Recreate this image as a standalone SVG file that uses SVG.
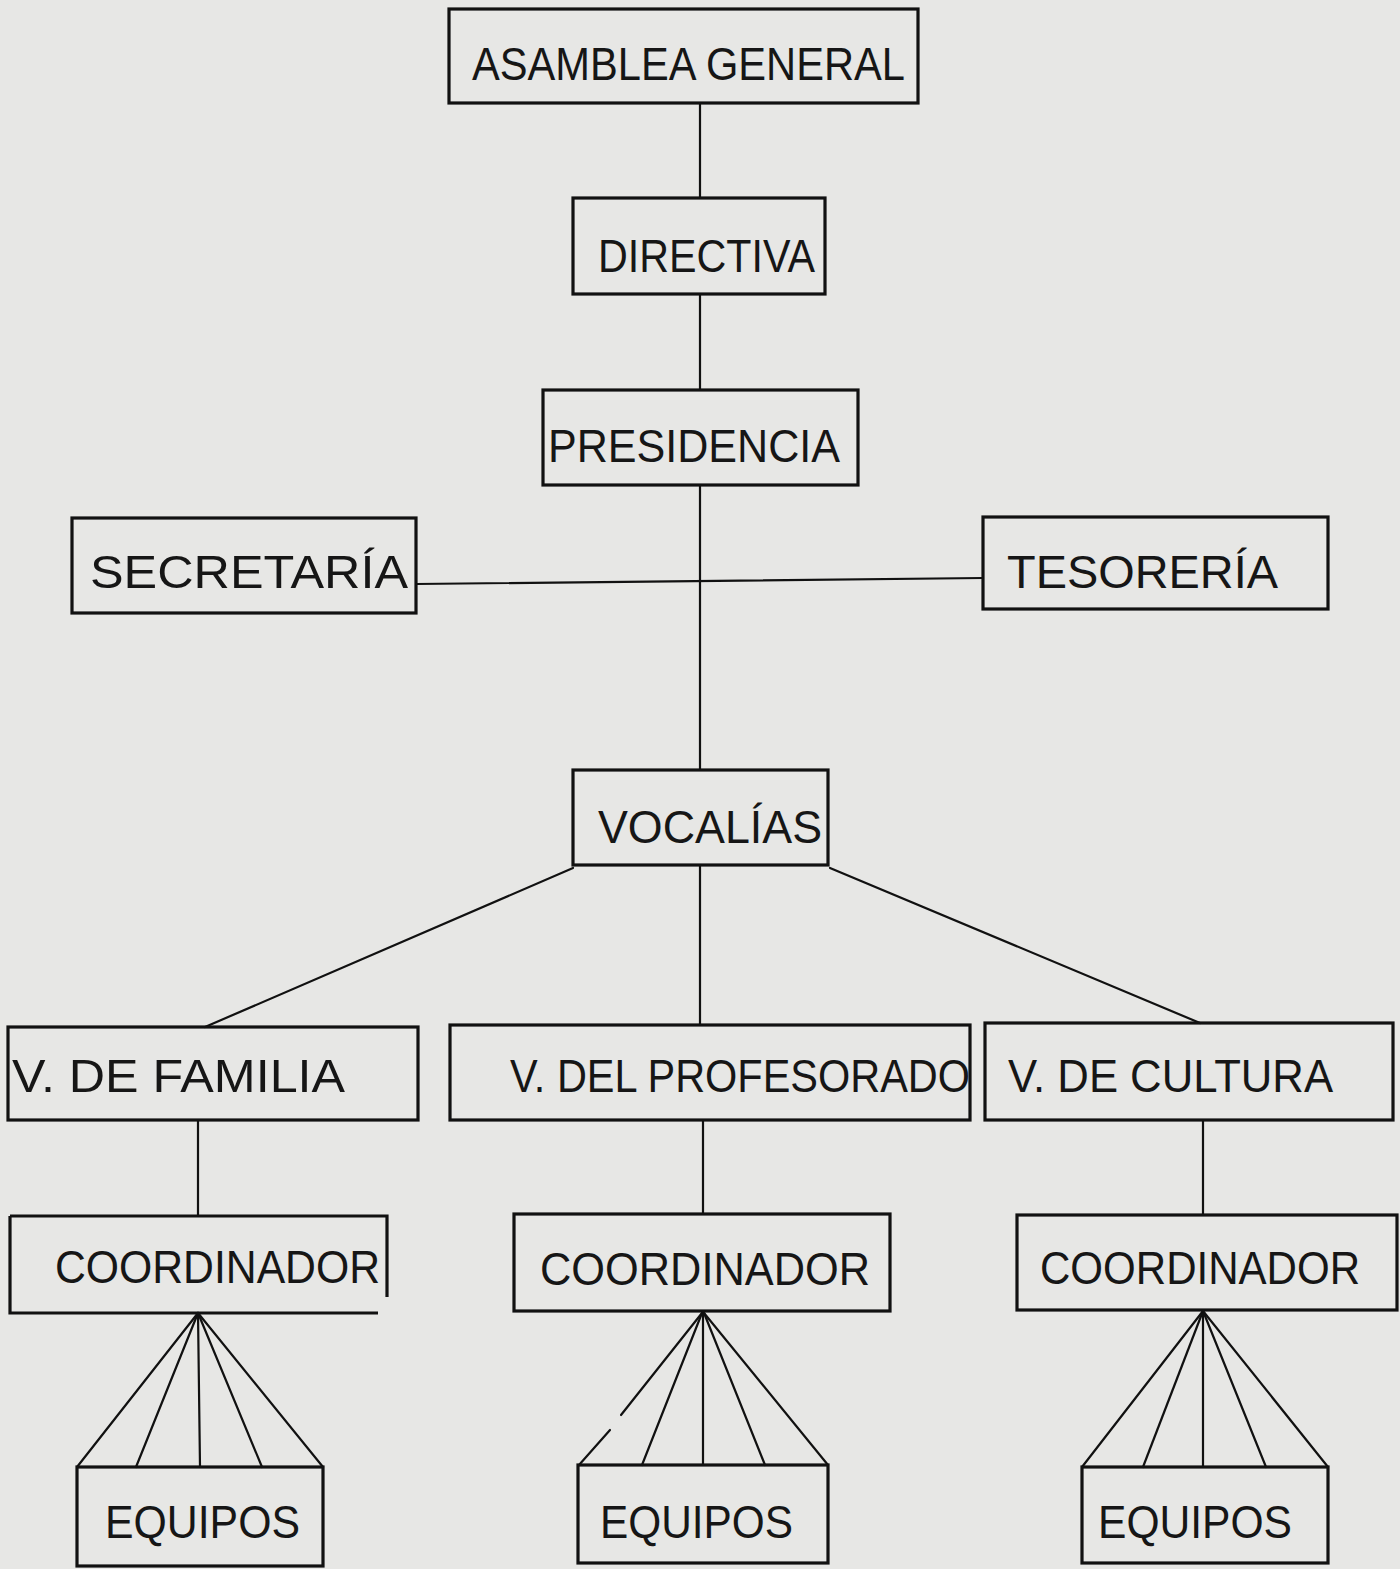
<svg xmlns="http://www.w3.org/2000/svg" width="1400" height="1569" viewBox="0 0 1400 1569">
<style>
.box{fill:none;stroke:#111;stroke-width:3.2}
.ln{fill:none;stroke:#111;stroke-width:2.2;stroke-linecap:round}
.t{font-family:"Liberation Sans","DejaVu Sans",sans-serif;font-size:46px;fill:#161616}
</style>
<rect width="1400" height="1569" fill="#e7e7e5"/>
<g id="connectors">
<line class="ln" x1="700" y1="103" x2="700" y2="198"/>
<line class="ln" x1="700" y1="294" x2="700" y2="390"/>
<line class="ln" x1="700" y1="485" x2="700" y2="770"/>
<line class="ln" x1="416" y1="584" x2="983" y2="578"/>
<line class="ln" x1="573" y1="868" x2="205" y2="1027"/>
<line class="ln" x1="700" y1="865" x2="700" y2="1025"/>
<line class="ln" x1="830" y1="868" x2="1200" y2="1023"/>
<line class="ln" x1="198" y1="1120" x2="198" y2="1216"/>
<line class="ln" x1="703" y1="1120" x2="703" y2="1214"/>
<line class="ln" x1="1203" y1="1120" x2="1203" y2="1215"/>
<g>
<line class="ln" x1="198" y1="1313" x2="77" y2="1467"/>
<line class="ln" x1="198" y1="1313" x2="136" y2="1467"/>
<line class="ln" x1="198" y1="1313" x2="200" y2="1467"/>
<line class="ln" x1="198" y1="1313" x2="262" y2="1467"/>
<line class="ln" x1="198" y1="1313" x2="323" y2="1467"/>
</g>
<g>
<line class="ln" x1="702" y1="1313" x2="621" y2="1415"/>
<line class="ln" x1="610" y1="1430" x2="579" y2="1465"/>
<line class="ln" x1="702" y1="1313" x2="642" y2="1465"/>
<line class="ln" x1="703" y1="1313" x2="703" y2="1465"/>
<line class="ln" x1="704" y1="1313" x2="765" y2="1465"/>
<line class="ln" x1="704" y1="1313" x2="828" y2="1465"/>
</g>
<g>
<line class="ln" x1="1203" y1="1311" x2="1082" y2="1467"/>
<line class="ln" x1="1203" y1="1311" x2="1143" y2="1467"/>
<line class="ln" x1="1203" y1="1311" x2="1203" y2="1467"/>
<line class="ln" x1="1203" y1="1311" x2="1266" y2="1467"/>
<line class="ln" x1="1203" y1="1311" x2="1328" y2="1467"/>
</g>
</g>
<g id="asamblea"><rect class="box" x="449" y="9" width="469" height="94"/><text class="t" x="472" y="80" textLength="433" lengthAdjust="spacingAndGlyphs">ASAMBLEA GENERAL</text></g>
<g id="directiva"><rect class="box" x="573" y="198" width="252" height="96"/><text class="t" x="598" y="272" textLength="217" lengthAdjust="spacingAndGlyphs">DIRECTIVA</text></g>
<g id="presidencia"><rect class="box" x="543" y="390" width="315" height="95"/><text class="t" x="548" y="462" textLength="292" lengthAdjust="spacingAndGlyphs">PRESIDENCIA</text></g>
<g id="secretaria"><rect class="box" x="72" y="518" width="344" height="95"/><text class="t" x="90" y="588" textLength="318" lengthAdjust="spacingAndGlyphs">SECRETARÍA</text></g>
<g id="tesoreria"><rect class="box" x="983" y="517" width="345" height="92"/><text class="t" x="1007" y="588" textLength="271" lengthAdjust="spacingAndGlyphs">TESORERÍA</text></g>
<g id="vocalias"><rect class="box" x="573" y="770" width="255" height="95"/><text class="t" x="598" y="843" textLength="224" lengthAdjust="spacingAndGlyphs">VOCALÍAS</text></g>
<g id="v-familia"><rect class="box" x="8" y="1027" width="410" height="93"/><text class="t" x="12" y="1092" textLength="333" lengthAdjust="spacingAndGlyphs">V. DE FAMILIA</text></g>
<g id="v-profesorado"><rect class="box" x="450" y="1025" width="520" height="95"/><text class="t" x="510" y="1092" textLength="460" lengthAdjust="spacingAndGlyphs">V. DEL PROFESORADO</text></g>
<g id="v-cultura"><rect class="box" x="985" y="1023" width="408" height="97"/><text class="t" x="1008" y="1092" textLength="325" lengthAdjust="spacingAndGlyphs">V. DE CULTURA</text></g>
<g id="coord-1"><path class="box" d="M10,1216 H387 V1297 M378,1313 H10 V1216"/><text class="t" x="55" y="1283" textLength="325" lengthAdjust="spacingAndGlyphs">COORDINADOR</text></g>
<g id="coord-2"><rect class="box" x="514" y="1214" width="376" height="97"/><text class="t" x="540" y="1285" textLength="330" lengthAdjust="spacingAndGlyphs">COORDINADOR</text></g>
<g id="coord-3"><rect class="box" x="1017" y="1215" width="380" height="95"/><text class="t" x="1040" y="1284" textLength="320" lengthAdjust="spacingAndGlyphs">COORDINADOR</text></g>
<g id="equipos-1"><rect class="box" x="77" y="1467" width="246" height="99"/><text class="t" x="105" y="1538" textLength="195" lengthAdjust="spacingAndGlyphs">EQUIPOS</text></g>
<g id="equipos-2"><rect class="box" x="578" y="1465" width="250" height="98"/><text class="t" x="600" y="1538" textLength="193" lengthAdjust="spacingAndGlyphs">EQUIPOS</text></g>
<g id="equipos-3"><rect class="box" x="1082" y="1467" width="246" height="96"/><text class="t" x="1098" y="1538" textLength="194" lengthAdjust="spacingAndGlyphs">EQUIPOS</text></g>
</svg>
